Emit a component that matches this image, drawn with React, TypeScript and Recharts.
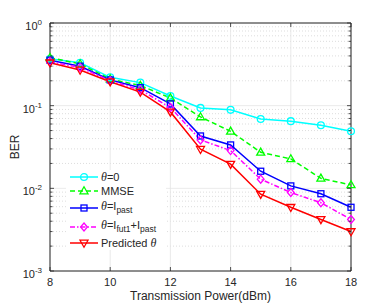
import React from "react";
import {
  LineChart,
  Line,
  XAxis,
  YAxis,
  CartesianGrid,
  Legend,
  ReferenceArea,
} from "recharts";

// transmission power (dBm)
const powers = [8, 9, 10, 11, 12, 13, 14, 15, 16, 17, 18];

// BER per scheme
const berTheta0 = [0.37, 0.33, 0.22, 0.19, 0.131, 0.094, 0.089, 0.069, 0.065, 0.058, 0.049];
const berMmse = [0.38, 0.32, 0.21, 0.175, 0.124, 0.073, 0.049, 0.0273, 0.0227, 0.0132, 0.011];
const berPast = [0.355, 0.3, 0.205, 0.165, 0.105, 0.043, 0.0335, 0.0161, 0.0107, 0.0086, 0.0059];
const berFutPast = [0.34, 0.29, 0.2, 0.155, 0.095, 0.0385, 0.0286, 0.0129, 0.0089, 0.0067, 0.0042];
const berPredicted = [0.33, 0.27, 0.195, 0.146, 0.084, 0.0297, 0.0196, 0.0085, 0.0059, 0.0042, 0.003];

const xTicks = [8, 10, 12, 14, 16, 18];
const yMajor = [0.001, 0.01, 0.1, 1];
const yMinor = [
  0.002, 0.003, 0.004, 0.005, 0.006, 0.007, 0.008, 0.009,
  0.02, 0.03, 0.04, 0.05, 0.06, 0.07, 0.08, 0.09,
  0.2, 0.3, 0.4, 0.5, 0.6, 0.7, 0.8, 0.9,
];

const data = powers.map((p, i) => ({
  p,
  theta0: berTheta0[i],
  mmse: berMmse[i],
  past: berPast[i],
  futPast: berFutPast[i],
  predicted: berPredicted[i],
}));

const W = 388;
const H = 305;
const PL = 50;
const PR = 351;
const PT = 23;
const PB = 271;
const FONT = "'Liberation Sans', Arial, Helvetica, sans-serif";
const AX = "#262626";

const Marker = ({ kind, cx, cy, color }: any) => {
  const s = 3.4;
  if (cx == null || cy == null) return null;
  if (kind === "circle")
    return <circle cx={cx} cy={cy} r={s} fill="none" stroke={color} strokeWidth={1.3} />;
  if (kind === "up")
    return (
      <polygon
        points={`${cx},${cy - s - 0.8} ${cx - s - 0.6},${cy + s - 0.6} ${cx + s + 0.6},${cy + s - 0.6}`}
        fill="none" stroke={color} strokeWidth={1.3} />
    );
  if (kind === "down")
    return (
      <polygon
        points={`${cx},${cy + s + 0.8} ${cx - s - 0.6},${cy - s + 0.6} ${cx + s + 0.6},${cy - s + 0.6}`}
        fill="none" stroke={color} strokeWidth={1.3} />
    );
  if (kind === "square")
    return <rect x={cx - 3} y={cy - 3} width={6} height={6} fill="none" stroke={color} strokeWidth={1.3} />;
  return (
    <polygon
      points={`${cx},${cy - s - 0.6} ${cx + s},${cy} ${cx},${cy + s + 0.6} ${cx - s},${cy}`}
      fill="none" stroke={color} strokeWidth={1.3} />
  );
};

const series = [
  { key: "theta0", color: "#00ffff", kind: "circle", dash: undefined },
  { key: "mmse", color: "#00ff00", kind: "up", dash: "5 3" },
  { key: "past", color: "#0000ff", kind: "square", dash: undefined },
  { key: "futPast", color: "#ff00ff", kind: "diamond", dash: "5 2 1.5 2" },
  { key: "predicted", color: "#ff0000", kind: "down", dash: undefined },
];

const legendLabel = (key: string) => {
  const it = { fontStyle: "italic" as const, fontFamily: "'Liberation Serif', serif", fontSize: 12 };
  const sub = { fontSize: 8.5, verticalAlign: "sub" as const };
  if (key === "theta0") return <span><span style={it}>θ</span>=0</span>;
  if (key === "mmse") return <span>MMSE</span>;
  if (key === "past") return <span><span style={it}>θ</span>=I<span style={sub}>past</span></span>;
  if (key === "futPast")
    return <span><span style={it}>θ</span>=I<span style={sub}>fut1</span>+I<span style={sub}>past</span></span>;
  return <span>Predicted <span style={it}>θ</span></span>;
};

const rowHeights = [14, 14, 19, 19, 14];

const LegendBox = () => (
  <div style={{ background: "#fff", padding: "0 3px", fontFamily: FONT, fontSize: 11, color: AX }}>
    {series.map((s, i) => (
      <div key={s.key} style={{ height: rowHeights[i], display: "flex", alignItems: "center" }}>
        <svg width={30} height={12} style={{ marginRight: 2, flexShrink: 0 }}>
          <line x1={1} x2={29} y1={6} y2={6} stroke={s.color} strokeWidth={1.5} strokeDasharray={s.dash} />
          <Marker kind={s.kind} cx={15} cy={6} color={s.color} />
        </svg>
        {legendLabel(s.key)}
      </div>
    ))}
  </div>
);

const YTick = (props: any) => {
  const { x, y, payload } = props;
  const v = payload.value;
  const major = yMajor.includes(v);
  const len = major ? 4 : 2.5;
  const exp = Math.round(Math.log10(v));
  return (
    <g>
      <line x1={PL} x2={PL + len} y1={y} y2={y} stroke={AX} strokeWidth={0.8} />
      <line x1={PR - len} x2={PR} y1={y} y2={y} stroke={AX} strokeWidth={0.8} />
      {major && (
        <text x={x} y={y + 7} textAnchor="end" fontSize={11} fontFamily={FONT} fill={AX}>
          10
          <tspan dy={-5} fontSize={8}>{exp}</tspan>
        </text>
      )}
    </g>
  );
};

const XTick = (props: any) => {
  const { x, payload } = props;
  return (
    <g>
      <line x1={x} x2={x} y1={PB} y2={PB - 4} stroke={AX} strokeWidth={0.8} />
      <line x1={x} x2={x} y1={PT} y2={PT + 4} stroke={AX} strokeWidth={0.8} />
      <text x={x} y={PB + 15} textAnchor="middle" fontSize={11} fontFamily={FONT} fill={AX}>
        {payload.value}
      </text>
    </g>
  );
};

export default function App() {
  return (
    <div style={{ position: "absolute", left: 0, top: 0, width: W, height: H, background: "#fff" }}>
      <LineChart
        width={W}
        height={H}
        data={data}
        margin={{ top: PT, right: W - PR, left: PL - 40, bottom: H - PB - 25 }}
      >
        <CartesianGrid
          vertical={false}
          horizontalValues={yMinor}
          stroke="#cfcfcf"
          strokeDasharray="1 2"
          strokeWidth={0.7}
        />
        <CartesianGrid
          horizontalValues={yMajor}
          verticalValues={xTicks}
          stroke="#e4e4e4"
          strokeWidth={0.8}
        />
        <XAxis
          dataKey="p"
          type="number"
          domain={[8, 18]}
          ticks={xTicks}
          height={25}
          tickLine={false}
          axisLine={false}
          tick={<XTick />}
          interval={0}
          label={{
            value: "Transmission Power(dBm)",
            position: "insideBottom",
            offset: -4,
            fontSize: 12,
            fontFamily: FONT,
            fill: AX,
          }}
        />
        <YAxis
          type="number"
          scale="log"
          domain={[0.001, 1]}
          allowDataOverflow
          ticks={[...yMajor, ...yMinor]}
          width={40}
          tickLine={false}
          tickSize={0}
          tickMargin={8}
          axisLine={false}
          interval={0}
          tick={<YTick />}
          label={{
            value: "BER",
            angle: -90,
            position: "insideLeft",
            offset: 5,
            fontSize: 12,
            fontFamily: FONT,
            fill: AX,
            style: { textAnchor: "middle" },
          }}
        />
        <ReferenceArea x1={8} x2={18} y1={0.001} y2={1} fill="none" stroke={AX} strokeWidth={1} />
        {series.map((s) => (
          <Line
            key={s.key}
            dataKey={s.key}
            stroke={s.color}
            strokeWidth={1.5}
            strokeDasharray={s.dash}
            isAnimationActive={false}
            dot={(p: any) => <Marker key={`${s.key}-${p.index}`} kind={s.kind} cx={p.cx} cy={p.cy} color={s.color} />}
            activeDot={false}
          />
        ))}
        <Legend
          layout="vertical"
          align="center"
          verticalAlign="middle"
          content={<LegendBox />}
          wrapperStyle={{ left: 66, top: 170, width: 100, height: "auto" }}
        />
      </LineChart>
    </div>
  );
}
